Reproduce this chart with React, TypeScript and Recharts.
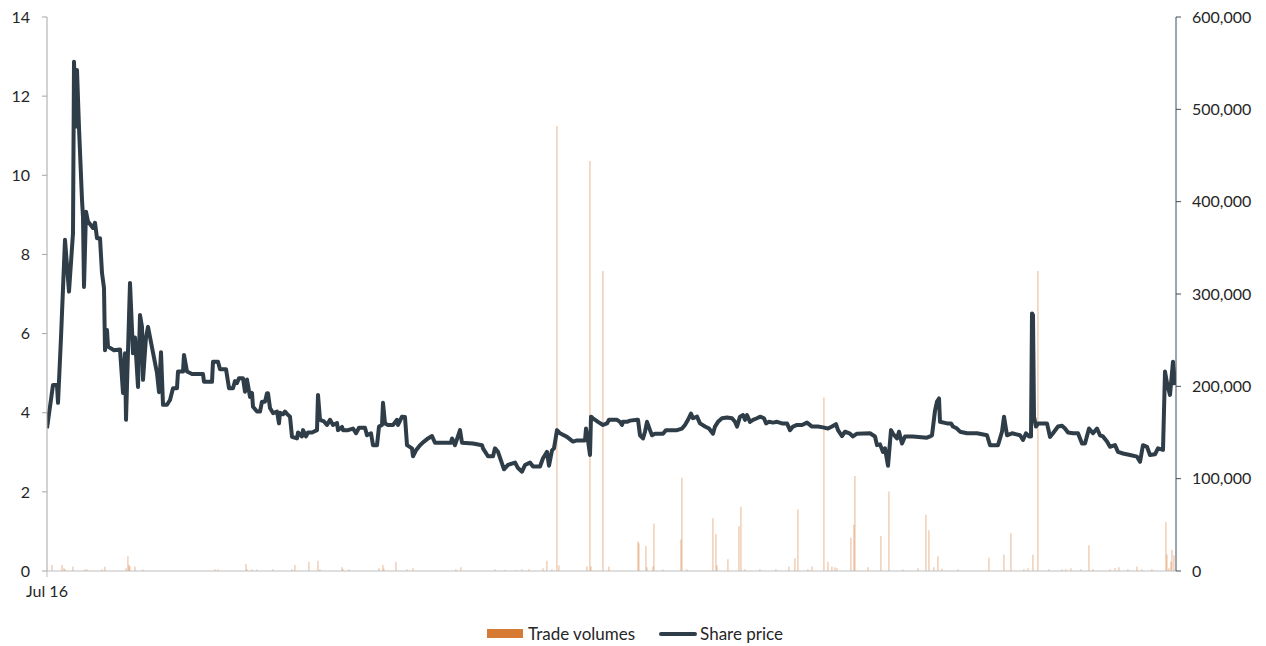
import { ComposedChart, Bar, Line, XAxis, YAxis } from 'recharts'

const FONT = 'Lato, "Open Sans", sans-serif'
const PRICE_COLOR = '#2e3d47'
const VOL_COLOR = '#d67a34'

// trading-day index (0 = Jul 16) of each price observation
const priceDays = [
  0, 6, 10, 11, 14, 18, 22, 26, 27, 29, 30, 32, 35, 36, 37, 39, 41, 46, 48, 50,
  53, 55, 57, 58, 60, 61, 67, 73, 76, 78, 79, 83, 86, 88, 91, 93, 95, 96, 99, 101,
  110, 112, 114, 116, 120, 123, 126, 130, 131, 136, 137, 140, 145, 156, 157, 165, 166, 171, 173, 179,
  182, 186, 188, 190, 192, 196, 198, 200, 203, 205, 206, 210, 213, 215, 218, 220, 221, 223, 226, 230,
  232, 233, 236, 238, 240, 243, 245, 250, 251, 255, 256, 259, 261, 265, 270, 271, 273, 277, 280, 283,
  286, 290, 291, 295, 296, 301, 306, 309, 312, 318, 320, 324, 326, 330, 332, 335, 336, 338, 341, 346,
  350, 351, 355, 358, 360, 365, 366, 369, 373, 377, 381, 385, 388, 404, 405, 408, 413, 415, 426, 435,
  436, 441, 446, 448, 451, 457, 461, 468, 471, 475, 478, 483, 486, 493, 496, 500, 502, 505, 507, 510,
  513, 520, 526, 530, 538, 539, 541, 543, 544, 546, 551, 556, 560, 562, 570, 573, 575, 576, 580, 583,
  590, 591, 593, 596, 598, 600, 603, 605, 608, 616, 619, 630, 635, 638, 641, 644, 646, 650, 653, 658,
  662, 666, 668, 671, 675, 680, 685, 688, 690, 693, 696, 698, 700, 703, 706, 710, 713, 717, 719, 722,
  726, 730, 735, 740, 743, 746, 750, 755, 760, 765, 771, 776, 781, 785, 789, 791, 795, 798, 803, 806,
  810, 823, 828, 830, 833, 836, 838, 841, 844, 846, 850, 852, 855, 858, 866, 880, 883, 885, 888, 890,
  892, 893, 900, 904, 906, 910, 913, 920, 930, 940, 943, 951, 955, 957, 960, 965, 973, 976, 979, 982,
  984, 985, 986, 987, 989, 991, 1000, 1003, 1006, 1011, 1015, 1018, 1021, 1026, 1031, 1035, 1038, 1042, 1046, 1050,
  1053, 1056, 1060, 1063, 1068, 1071, 1076, 1083, 1090, 1093, 1096, 1100, 1103, 1108, 1111, 1116, 1118, 1120, 1123, 1126,
  1128,
]

const price = [
  3.61, 4.7, 4.7, 4.25, 5.9, 8.37, 7.06, 8.54, 12.87, 11.23, 12.66, 11.2, 9.38, 8.95, 7.18, 9.08, 8.83, 8.67, 8.8, 8.41,
  8.41, 7.53, 7.15, 5.58, 6.09, 5.67, 5.58, 5.6, 4.5, 5.5, 3.82, 7.28, 5.5, 5.9, 4.65, 6.47, 6.17, 4.83, 5.91, 6.17,
  5.0, 4.52, 5.53, 4.2, 4.2, 4.32, 4.62, 4.62, 5.04, 5.04, 5.46, 5.04, 4.98, 4.98, 4.78, 4.78, 5.29, 5.29, 5.1, 5.1,
  4.62, 4.62, 4.8, 4.75, 4.87, 4.87, 4.53, 4.84, 4.4, 4.5, 4.15, 4.03, 4.03, 4.28, 4.28, 4.49, 4.49, 4.12, 3.99, 4.03,
  3.73, 4.0, 3.96, 4.03, 3.97, 3.9, 3.39, 3.35, 3.5, 3.4, 3.56, 3.4, 3.5, 3.5, 3.56, 4.45, 3.82, 3.78, 3.69, 3.82,
  3.69, 3.74, 3.56, 3.64, 3.56, 3.56, 3.6, 3.48, 3.62, 3.62, 3.43, 3.48, 3.18, 3.18, 3.65, 3.69, 4.25, 3.73, 3.69, 3.69,
  3.82, 3.69, 3.9, 3.89, 3.18, 3.1, 2.9, 3.05, 3.18, 3.27, 3.35, 3.41, 3.24, 3.24, 3.35, 3.18, 3.56, 3.24, 3.22, 3.18,
  3.1, 2.9, 2.9, 3.1, 3.01, 2.57, 2.68, 2.74, 2.6, 2.51, 2.68, 2.74, 2.64, 2.64, 2.85, 3.01, 2.66, 3.05, 3.1, 3.56,
  3.48, 3.39, 3.27, 3.3, 3.3, 3.6, 3.3, 2.93, 3.9, 3.86, 3.77, 3.69, 3.73, 3.82, 3.82, 3.77, 3.69, 3.77, 3.77, 3.8,
  3.82, 3.82, 3.43, 3.35, 3.52, 3.77, 3.56, 3.43, 3.47, 3.47, 3.56, 3.56, 3.6, 3.69, 3.82, 3.98, 3.86, 3.9, 3.73, 3.65,
  3.6, 3.47, 3.65, 3.77, 3.86, 3.88, 3.86, 3.77, 3.65, 3.9, 3.94, 3.82, 3.94, 3.77, 3.82, 3.86, 3.9, 3.86, 3.73, 3.77,
  3.75, 3.77, 3.73, 3.73, 3.56, 3.65, 3.69, 3.69, 3.75, 3.65, 3.65, 3.63, 3.6, 3.65, 3.71, 3.56, 3.41, 3.52, 3.47, 3.4,
  3.47, 3.48, 3.4, 3.18, 3.2, 3.01, 3.1, 2.66, 3.56, 3.47, 3.35, 3.52, 3.22, 3.4, 3.4, 3.37, 3.4, 3.43, 4.05, 4.28,
  4.36, 3.77, 3.73, 3.73, 3.65, 3.6, 3.52, 3.48, 3.48, 3.43, 3.18, 3.18, 3.52, 3.9, 3.43, 3.48, 3.43, 3.31, 3.48, 3.4,
  3.4, 6.51, 6.47, 3.9, 3.65, 3.73, 3.73, 3.39, 3.48, 3.65, 3.67, 3.6, 3.5, 3.48, 3.48, 3.22, 3.22, 3.6, 3.48, 3.6,
  3.43, 3.4, 3.27, 3.14, 3.18, 3.01, 2.97, 2.93, 2.89, 2.76, 3.18, 3.14, 2.93, 2.95, 3.1, 3.06, 5.04, 4.75, 4.45, 5.29,
  4.7,
]

// trading-day index of each traded volume
const volDays = [
  5, 15, 17, 18, 26, 38, 40, 55, 58, 79, 81, 82, 83, 88, 96, 168, 171, 199, 200, 205,
  210, 226, 245, 248, 262, 271, 273, 295, 296, 302, 332, 336, 337, 349, 360, 366, 409, 414, 448, 458,
  469, 475, 482, 496, 500, 505, 510, 512, 540, 543, 544, 556, 562, 591, 592, 599, 600, 606, 607, 616,
  634, 635, 640, 666, 669, 670, 681, 692, 694, 698, 713, 729, 742, 748, 751, 761, 765, 777, 781, 785,
  788, 790, 804, 807, 808, 821, 834, 842, 856, 871, 879, 882, 887, 891, 895, 911, 942, 957, 964, 977,
  981, 986, 991, 1002, 1015, 1019, 1024, 1034, 1042, 1046, 1063, 1068, 1072, 1081, 1090, 1095, 1105, 1119, 1120, 1122,
  1124, 1125, 1127,
]

const volumes = [
  6500, 6500, 3000, 2000, 5000, 2000, 1500, 2000, 4600, 3000, 16000, 6500, 5000, 5000, 1500, 2000, 1500, 7500, 2000, 1500,
  1500, 2000, 2000, 6500, 10000, 11000, 2000, 4000, 2000, 2000, 3000, 6500, 2500, 10000, 2000, 3000, 2000, 4000, 2000, 1000,
  1000, 2000, 2000, 3000, 11000, 2000, 482000, 6000, 5000, 444000, 5000, 325000, 5000, 32000, 30000, 27000, 4000, 5000, 51500, 1500,
  34000, 101000, 2000, 57000, 40000, 6000, 12600, 48600, 69500, 2000, 2000, 2000, 5000, 13700, 66700, 2000, 5000, 188000, 10000, 5000,
  4000, 3000, 36000, 50000, 103000, 4000, 38000, 86000, 1500, 3000, 61000, 44000, 4000, 16000, 2500, 2000, 14400, 18000, 41000, 2000,
  3000, 18000, 325000, 2000, 2000, 2000, 3000, 2000, 28000, 2000, 2000, 3000, 4000, 2000, 5000, 2000, 2000, 53000, 18000, 3000,
  10000, 23000, 17000,
]

const priceTicks = [0, 2, 4, 6, 8, 10, 12, 14]
const volTicks = [0, 100000, 200000, 300000, 400000, 500000, 600000]
const lastDay = 1129

type Row = { day: number; price?: number; volume?: number }

const rows: Record<number, Row> = {}
priceDays.forEach((d, i) => {
  rows[d] = { ...(rows[d] || { day: d }), price: price[i] }
})
volDays.forEach((d, i) => {
  rows[d] = { ...(rows[d] || { day: d }), volume: volumes[i] }
})
const data = Object.values(rows).sort((a, b) => a.day - b.day)

const tickStyle = { fontSize: 16, fill: '#262626', fontFamily: FONT }

export default function App() {
  return (
    <div style={{ position: 'absolute', left: 0, top: 0, width: 1266, height: 646, background: '#fff', fontFamily: FONT }}>
      <ComposedChart width={1266} height={600} data={data} margin={{ top: 17, right: 0, bottom: 0, left: 0 }}>
        <XAxis
          dataKey="day"
          type="number"
          domain={[0, lastDay]}
          ticks={[0]}
          tickFormatter={() => 'Jul 16'}
          height={29}
          tick={tickStyle}
          tickSize={6}
          tickMargin={9}
          stroke="#bfbfbf"
          allowDataOverflow
        />
        <YAxis
          yAxisId="price"
          orientation="left"
          domain={[0, 14]}
          ticks={priceTicks}
          width={47}
          tick={tickStyle}
          tickSize={5}
          tickMargin={12}
          stroke="#a6a6a6"
        />
        <YAxis
          yAxisId="vol"
          orientation="right"
          domain={[0, 600000]}
          ticks={volTicks}
          width={90}
          tick={tickStyle}
          tickSize={5}
          tickMargin={11}
          stroke="#3f4d5a"
          tickFormatter={v => v.toLocaleString('en-US')}
        />
        <Bar
          yAxisId="vol"
          dataKey="volume"
          fill={VOL_COLOR}
          fillOpacity={0.6}
          barSize={1.5}
          isAnimationActive={false}
        />
        <Line
          yAxisId="price"
          dataKey="price"
          type="linear"
          stroke={PRICE_COLOR}
          strokeWidth={4}
          strokeLinejoin="round"
          dot={false}
          connectNulls
          isAnimationActive={false}
        />
      </ComposedChart>
      <div style={{ position: 'absolute', top: 623, left: 487, display: 'flex', alignItems: 'center', fontSize: 17, color: '#262626' }}>
        <span style={{ display: 'inline-block', width: 36, height: 9, background: VOL_COLOR, marginRight: 5 }} />
        <span>Trade volumes</span>
        <span style={{ display: 'inline-block', width: 38, height: 4, background: PRICE_COLOR, marginLeft: 24, marginRight: 3, borderRadius: 2 }} />
        <span>Share price</span>
      </div>
    </div>
  )
}
